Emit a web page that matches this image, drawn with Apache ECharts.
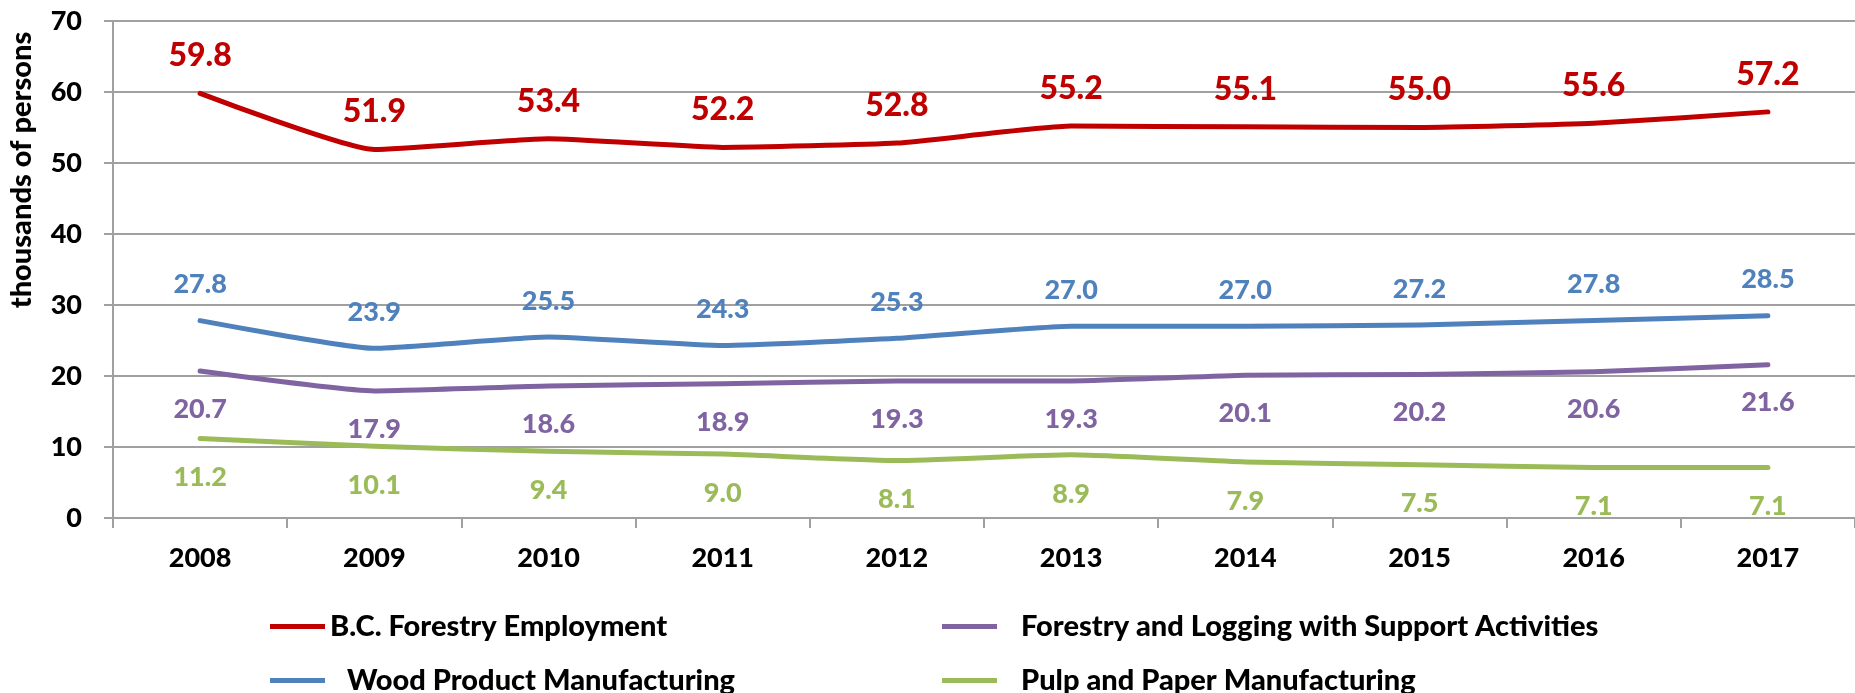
<!DOCTYPE html>
<html>
<head>
<meta charset="utf-8">
<script src="https://cdn.jsdelivr.net/npm/echarts@6/dist/echarts.min.js"></script>
<style>
html,body{margin:0;padding:0;background:#fff;}
#chart{width:1855px;height:693px;}
</style>
</head>
<body>
<div id="chart"></div>
<script>
const years = ['2008','2009','2010','2011','2012','2013','2014','2015','2016','2017'];
const bcForestry = [59.8, 51.9, 53.4, 52.2, 52.8, 55.2, 55.1, 55.0, 55.6, 57.2];
const woodProduct = [27.8, 23.9, 25.5, 24.3, 25.3, 27.0, 27.0, 27.2, 27.8, 28.5];
const forestryLogging = [20.7, 17.9, 18.6, 18.9, 19.3, 19.3, 20.1, 20.2, 20.6, 21.6];
const pulpPaper = [11.2, 10.1, 9.4, 9.0, 8.1, 8.9, 7.9, 7.5, 7.1, 7.1];

const FONT = 'Lato';
const W = 900;
const C_RED = '#C00000', C_BLUE = '#4F81BD', C_PURPLE = '#8064A2', C_GREEN = '#9BBB59';

function mkSeries(name, data, color, pos, fontSize, dist) {
  return {
    name: name, type: 'line', data: data, smooth: 0.15,
    symbol: 'circle', symbolSize: 1, showSymbol: true,
    lineStyle: {color: color, width: 5, cap: 'round', join: 'round'},
    itemStyle: {color: color},
    label: {show: true, position: pos, distance: dist, color: color,
      fontFamily: FONT, fontWeight: W, fontSize: fontSize,
      formatter: p => p.value.toFixed(1)},
    emphasis: {disabled: true}, animation: false
  };
}

function mkLegend(name, left, top, pad) {
  return {
    data: [name], left: left, top: top, orient: 'horizontal',
    icon: 'rect', itemWidth: 55, itemHeight: 5, itemGap: 0,
    textStyle: {fontFamily: FONT, fontWeight: W, fontSize: 29, color: '#000', padding: [0,0,0,pad]},
    selectedMode: false
  };
}

const chart = echarts.init(document.getElementById('chart'));
chart.setOption({
  backgroundColor: '#fff',
  animation: false,
  grid: {left: 113, top: 21, width: 1749, height: 497},
  legend: [
    mkLegend('B.C. Forestry Employment', 265, 607, 0),
    mkLegend('Forestry and Logging with Support Activities', 937, 607, 19),
    mkLegend('Wood Product Manufacturing', 265, 661, 17),
    mkLegend('Pulp and Paper Manufacturing', 937, 661, 19)
  ],
  xAxis: {
    type: 'category', data: years, boundaryGap: true,
    axisLine: {lineStyle: {color: '#a0a0a0', width: 2}},
    axisTick: {show: true, length: 10, lineStyle: {color: '#a0a0a0', width: 2}},
    axisLabel: {margin: 27, fontFamily: FONT, fontWeight: W, fontSize: 27, color: '#000'},
    splitLine: {show: false}
  },
  yAxis: {
    type: 'value', min: 0, max: 70, interval: 10,
    axisLine: {show: true, lineStyle: {color: '#a0a0a0', width: 2}},
    axisTick: {show: true, length: 9, lineStyle: {color: '#a0a0a0', width: 2}},
    axisLabel: {margin: 31, fontFamily: FONT, fontWeight: W, fontSize: 27, color: '#000'},
    splitLine: {lineStyle: {color: '#a0a0a0', width: 2}}
  },
  graphic: [{
    type: 'text', x: 22, y: 170, rotation: Math.PI / 2,
    style: {text: 'thousands of persons', font: W + ' 29px Lato', fill: '#000',
      align: 'center', verticalAlign: 'middle'}
  }],
  series: [
    mkSeries('B.C. Forestry Employment', bcForestry, C_RED, 'top', 32, 21),
    mkSeries('Wood Product Manufacturing', woodProduct, C_BLUE, 'top', 27, 22),
    mkSeries('Forestry and Logging with Support Activities', forestryLogging, C_PURPLE, 'bottom', 27, 24),
    mkSeries('Pulp and Paper Manufacturing', pulpPaper, C_GREEN, 'bottom', 27, 25)
  ]
});
</script>
</body>
</html>
